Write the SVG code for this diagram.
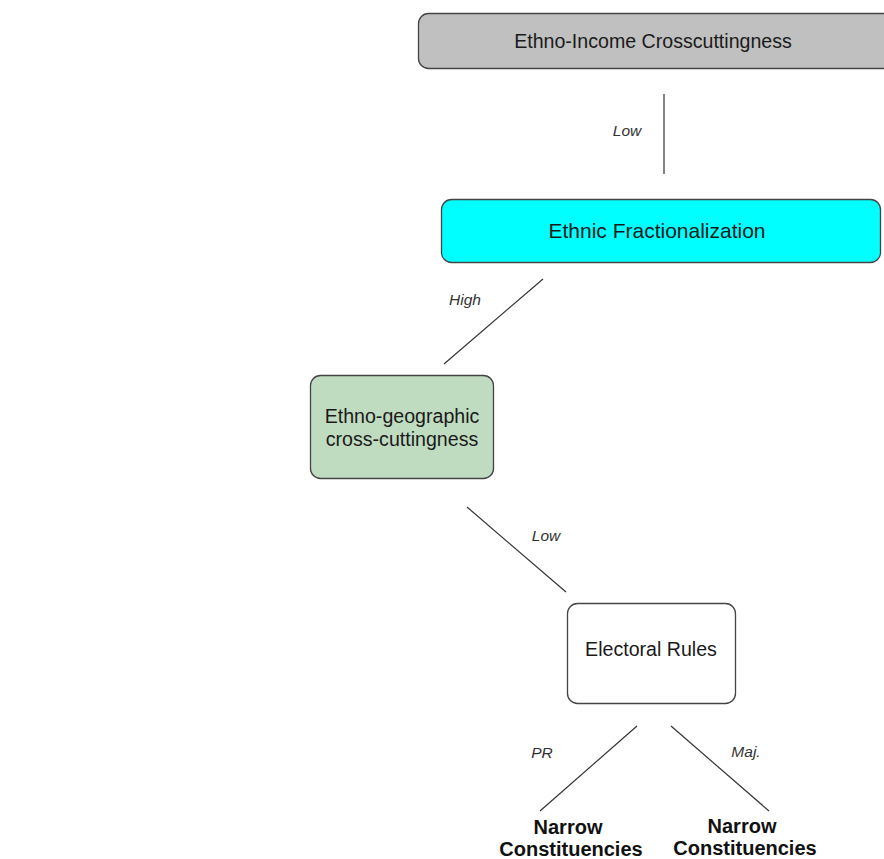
<svg xmlns="http://www.w3.org/2000/svg" width="884" height="859" viewBox="0 0 884 859">
<style>
.box{stroke:#444;stroke-width:1.3}
.t{font-family:"Liberation Sans",Arial,sans-serif;font-size:19.6px;fill:#1a1a1a;text-anchor:middle}
.lbl{font-family:"Liberation Sans",Arial,sans-serif;font-size:15.5px;font-style:italic;fill:#333;text-anchor:middle}
.b{font-family:"Liberation Sans",Arial,sans-serif;font-size:20px;font-weight:bold;fill:#111;text-anchor:middle}
.c{stroke:#333;stroke-width:1.2;fill:none}
</style>
<rect width="884" height="859" fill="#fff"/>
<g id="connectors">
<line class="c" x1="664" y1="94" x2="664" y2="174"/>
<line class="c" x1="543" y1="279" x2="444" y2="364"/>
<line class="c" x1="467" y1="507" x2="566" y2="592"/>
<line class="c" x1="637" y1="726" x2="540" y2="811"/>
<line class="c" x1="671" y1="726" x2="769" y2="811"/>
<text class="lbl" x="627" y="136">Low</text>
<text class="lbl" x="465" y="305">High</text>
<text class="lbl" x="546" y="541">Low</text>
<text class="lbl" x="542" y="758">PR</text>
<text class="lbl" x="746" y="757">Maj.</text>
</g>
<g id="n-income">
<rect class="box" x="418.5" y="13.5" width="500" height="55" rx="10" fill="#c0c0c0"/>
<text class="t" x="653" y="48">Ethno-Income Crosscuttingness</text>
</g>
<g id="n-frac">
<rect class="box" x="441.5" y="199.5" width="439" height="63" rx="10" fill="#00ffff"/>
<text class="t" x="657" y="238" style="font-size:21px">Ethnic Fractionalization</text>
</g>
<g id="n-geo">
<rect class="box" x="310.5" y="375.5" width="183" height="103" rx="10" fill="#c0dcc0"/>
<text class="t" x="402" y="423">Ethno-geographic</text>
<text class="t" x="402" y="446">cross-cuttingness</text>
</g>
<g id="n-elect">
<rect class="box" x="567.5" y="603.5" width="168" height="100" rx="10" fill="#fff"/>
<text class="t" x="651" y="656">Electoral Rules</text>
</g>
<g id="n-pr">
<text class="b" x="568" y="834">Narrow</text>
<text class="b" x="571" y="856">Constituencies</text>
</g>
<g id="n-maj">
<text class="b" x="742" y="833">Narrow</text>
<text class="b" x="745" y="855">Constituencies</text>
</g>
</svg>
